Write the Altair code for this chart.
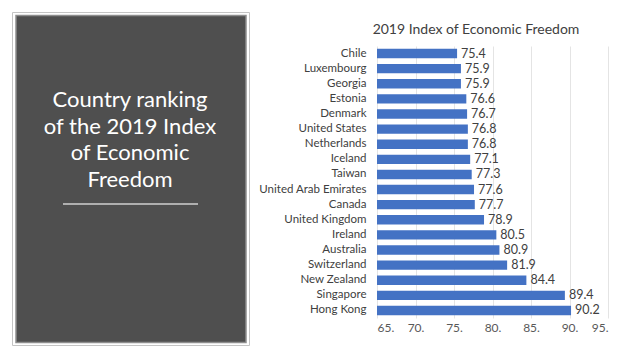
import altair as alt
import pandas as pd

countries = ["Chile", "Luxembourg", "Georgia", "Estonia", "Denmark", "United States",
             "Netherlands", "Iceland", "Taiwan", "United Arab Emirates", "Canada",
             "United Kingdom", "Ireland", "Australia", "Switzerland", "New Zealand",
             "Singapore", "Hong Kong"]
scores = [75.4, 75.9, 75.9, 76.6, 76.7, 76.8, 76.8, 77.1, 77.3, 77.6, 77.7,
          78.9, 80.5, 80.9, 81.9, 84.4, 89.4, 90.2]
x_ticks = [65, 70, 75, 80, 85, 90, 95]
chart_title = "2019 Index of Economic Freedom"
panel_text = "Country ranking\nof the 2019 Index\nof Economic\nFreedom"

df = pd.DataFrame({"country": countries, "score": scores})
FONT = "Lato"

base = alt.Chart(df).encode(
    y=alt.Y("country:N", sort=countries, title=None,
            scale=alt.Scale(paddingInner=0.38, paddingOuter=0.19),
            axis=alt.Axis(ticks=False, domain=False, labelPadding=11,
                          labelFontSize=11.5, labelColor="#404040", labelFont=FONT)),
    x=alt.X("score:Q", title=None,
            scale=alt.Scale(domain=[65, 95], nice=False, zero=False),
            axis=alt.Axis(values=x_ticks, ticks=False, domain=False, grid=True,
                          gridColor="#e4e4e4", labelExpr="datum.value + '.'",
                          labelOverlap=False, labelPadding=4, labelFontSize=12,
                          labelColor="#595959", labelFont=FONT)),
)

bars = base.mark_bar(color="#4472C4").encode(x2=alt.datum(65))

labels = base.mark_text(align="left", baseline="middle", dx=4, fontSize=12.5,
                        color="#404040", font=FONT).encode(
    text=alt.Text("score:Q", format=".1f"),
)

one = alt.Data(values=[{"k": 1}])

panel_outer = alt.Chart(one).mark_rect(fill="white", stroke="#c4c4c4", strokeWidth=1).encode(
    x=alt.value(-364.5), x2=alt.value(-127.5), y=alt.value(-33.5), y2=alt.value(299.5))
panel_inner = alt.Chart(one).mark_rect(fill="#4f4f4f", stroke="#8e8e8e", strokeWidth=1.5).encode(
    x=alt.value(-361), x2=alt.value(-131), y=alt.value(-30.5), y2=alt.value(296.5))
panel_title = alt.Chart(one).mark_text(
    align="center", baseline="top", fontSize=22, lineHeight=26.7, lineBreak="\n",
    color="white", font=FONT).encode(
    x=alt.value(-247), y=alt.value(44), text=alt.value(panel_text))
panel_rule = alt.Chart(one).mark_rule(color="#cfcfcf", strokeWidth=1.5).encode(
    x=alt.value(-314), x2=alt.value(-179), y=alt.value(158))
title_text = alt.Chart(one).mark_text(
    align="center", baseline="middle", fontSize=14, color="#404040", font=FONT).encode(
    x=alt.value(99), y=alt.value(-16), text=alt.value(chart_title))

chart = alt.layer(panel_outer, panel_inner, panel_title, panel_rule, title_text,
                  bars, labels).properties(
    width=231, height=272,
    autosize=alt.AutoSizeParams(type="none"),
    padding={"left": 369, "top": 38, "right": 22, "bottom": 28},
    background="white",
).configure_view(strokeWidth=0)

chart.save("out.html", embed_options={"renderer": "svg", "actions": False})
